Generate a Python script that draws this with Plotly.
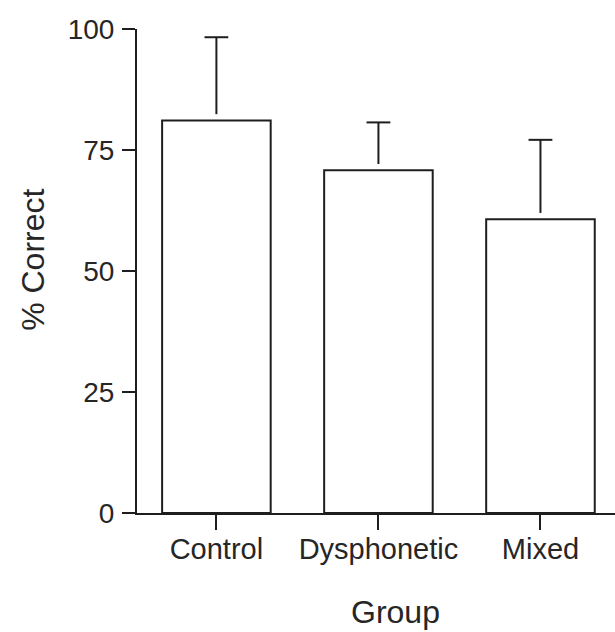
import plotly.graph_objects as go

# Mean percent correct per group, with upper SD
groups = ["Control", "Dysphonetic", "Mixed"]
mean_correct = [81.1, 70.8, 60.7]
sd_upper = [17.2, 9.9, 16.4]
y_ticks = [0, 25, 50, 75, 100]

INK = "#1e1e1e"
TEXT = "#262626"
FONT = "Liberation Sans, Arial, sans-serif"
STEM_GAP = 1.3  # small gap between bar top and the start of the whisker

upper = [m + s for m, s in zip(mean_correct, sd_upper)]

fig = go.Figure()

fig.add_trace(go.Bar(
    x=groups,
    y=mean_correct,
    width=0.67,
    marker=dict(color="white", line=dict(color=INK, width=2)),
    showlegend=False,
    hoverinfo="skip",
))

# upward-only whisker stems, starting just above each bar (no caps here)
fig.add_trace(go.Scatter(
    x=groups,
    y=[m + STEM_GAP for m in mean_correct],
    mode="markers",
    marker=dict(size=1, color="rgba(0,0,0,0)"),
    error_y=dict(
        type="data",
        symmetric=False,
        array=[u - (m + STEM_GAP) for u, m in zip(upper, mean_correct)],
        arrayminus=[0 for _ in sd_upper],
        color=INK,
        thickness=2,
        width=0,
    ),
    showlegend=False,
    hoverinfo="skip",
    cliponaxis=False,
))

# whisker caps at mean + SD
fig.add_trace(go.Scatter(
    x=groups,
    y=upper,
    mode="markers",
    marker=dict(symbol="line-ew", size=17, color=INK,
                line=dict(color=INK, width=2)),
    showlegend=False,
    hoverinfo="skip",
    cliponaxis=False,
))

fig.update_layout(
    width=615,
    height=632,
    margin=dict(l=137, r=0, t=29, b=119),
    paper_bgcolor="white",
    plot_bgcolor="white",
    font=dict(family=FONT, color=TEXT, size=29),
    xaxis=dict(
        type="category",
        range=[-0.49, 2.46],
        showline=True,
        linecolor=INK,
        linewidth=2,
        ticks="outside",
        ticklen=15,
        tickwidth=2,
        tickcolor=INK,
        showgrid=False,
        ticklabelstandoff=-6,
        tickfont=dict(size=29, family=FONT, color=TEXT),
    ),
    yaxis=dict(
        range=[0, 100],
        tickvals=y_ticks,
        showline=True,
        linecolor=INK,
        linewidth=2,
        ticks="outside",
        ticklen=13,
        tickwidth=2,
        tickcolor=INK,
        showgrid=False,
        zeroline=False,
        ticklabelstandoff=2,
        tickfont=dict(size=28, family=FONT, color=TEXT),
    ),
    annotations=[
        dict(
            text="Group", xref="paper", yref="paper",
            x=0.54, y=-0.2045, xanchor="center", yanchor="middle",
            showarrow=False, font=dict(size=32, family=FONT, color=TEXT),
        ),
        dict(
            text="% Correct", xref="paper", yref="paper",
            x=-0.2176, y=0.523, xanchor="center", yanchor="middle",
            textangle=-90,
            showarrow=False, font=dict(size=32, family=FONT, color=TEXT),
        ),
    ],
)

fig.write_html("out.html")
